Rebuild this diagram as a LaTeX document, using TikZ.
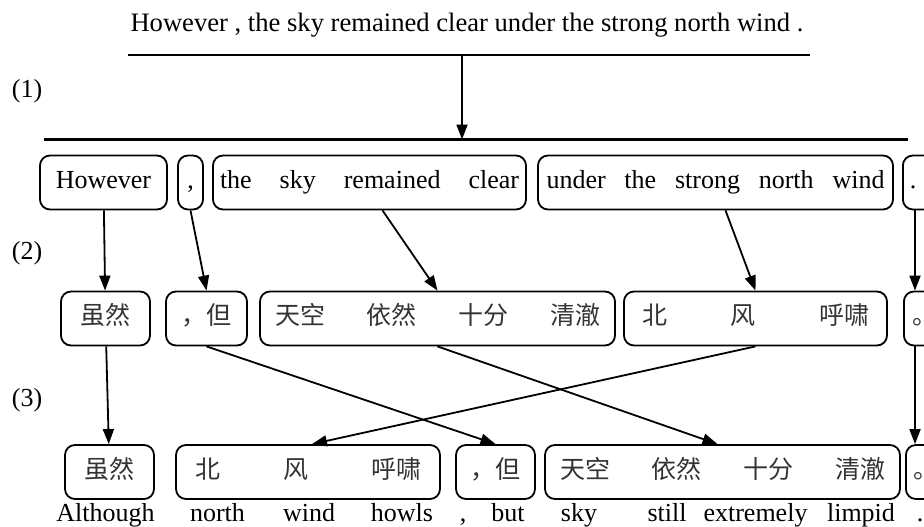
\documentclass[tikz,border=0pt]{standalone}
\usepackage{fontspec}
\setmainfont{Liberation Serif}
\newfontfamily\cjk{Noto Sans CJK SC}
\usetikzlibrary{arrows.meta}

\begin{document}
\begin{tikzpicture}[x=1pt, y=-1pt,
  every node/.style = {font=\fontsize{26}{31}\selectfont},
  chunk/.style = {draw, rounded corners=10pt, line width=1.8pt,
    minimum height=54pt, inner xsep=0pt, text height=19pt, text depth=7pt},
  zh/.style = {chunk, text=black!80, font=\cjk\fontsize{25}{30}\selectfont},
  link/.style = {line width=1.8pt, -{Triangle[length=15pt,width=11pt]}}]
  \useasboundingbox (0,0) rectangle (924,527);

  % source sentence and alignment
  \node[anchor=base, font=\fontsize{26.6}{31}\selectfont] (sentence) at (467,32)
    {However , the sky remained clear under the strong north wind .};
  \draw[line width=2.2pt] (128,55) -- (810,55);
  \draw[line width=2.2pt] (44,139.5) -- (908,139.5);
  \coordinate (split) at (462,55);
  \coordinate (merge) at (462,139.5);
  \draw[link] (split) -- (merge);

  \node (step1) at (27,91) {(1)};
  \node (step2) at (27,253) {(2)};
  \node (step3) at (27,400) {(3)};

  % English chunks
  \node[chunk, minimum width=127pt] (however) at (103.5,182.5) {However};
  \node[chunk, minimum width=25pt] (comma) at (190.5,182.5) {,};
  \node[chunk, minimum width=313pt] (sky) at (369.5,182.5)
    {\makebox[299pt][s]{the\hfill sky\hfill remained\hfill clear}};
  \node[chunk, minimum width=355pt] (wind) at (715.5,182.5)
    {\makebox[338pt][s]{under\hfill the\hfill strong\hfill north\hfill wind}};
  \node[chunk, minimum width=50pt, anchor=west] (stop) at (902,182.5)
    {\makebox[50pt][l]{\hspace{7pt}.}};

  % translated chunks
  \node[zh, minimum width=89pt] (suiran2) at (105.5,318.5) {虽然};
  \node[zh, minimum width=81pt] (dan2) at (206.5,318.5) {，但};
  \node[zh, minimum width=355pt] (tiankong2) at (437.5,318.5)
    {\makebox[325pt][s]{天空\hfill 依然\hfill 十分\hfill 清澈}};
  \node[zh, minimum width=263pt] (beifeng2) at (755.5,318.5)
    {\makebox[227pt][s]{北\hfill 风\hfill 呼啸}};
  \node[zh, minimum width=50pt, anchor=west] (juhao2) at (903,318.5)
    {\makebox[50pt][l]{\hspace{9pt}。}};

  % reordered chunks
  \node[zh, minimum width=89pt] (suiran3) at (109.5,472) {虽然};
  \node[zh, minimum width=264pt] (beifeng3) at (308,472)
    {\makebox[226pt][s]{北\hfill 风\hfill 呼啸}};
  \node[zh, minimum width=79pt] (dan3) at (495.5,472) {，但};
  \node[zh, minimum width=355pt] (tiankong3) at (722.5,472)
    {\makebox[325pt][s]{天空\hfill 依然\hfill 十分\hfill 清澈}};
  \node[zh, minimum width=50pt, anchor=west] (juhao3) at (905,472)
    {\makebox[50pt][l]{\hspace{8pt}。}};

  \draw[link] (however) -- (suiran2);
  \draw[link] (comma.south) -- (dan2.north);
  \draw[link] ([xshift=13pt]sky.south) -- (tiankong2.north);
  \draw[link] ([xshift=10pt]wind.south) -- (beifeng2.north);
  \draw[link] ([xshift=13pt]stop.south west) -- ([xshift=12pt]juhao2.north west);

  \draw[link] (suiran2) -- (suiran3);
  \draw[link] (dan2.south) -- (dan3.north);
  \draw[link] (tiankong2.south) -- ([xshift=-5pt]tiankong3.north);
  \draw[link] (beifeng2.south) -- ([xshift=4pt]beifeng3.north);
  \draw[link] ([xshift=12pt]juhao2.south west) -- ([xshift=10pt]juhao3.north west);

  % word glosses
  \foreach \x/\w [count=\i] in {105.5/Although, 217.5/north, 309/wind,
      402/howls, 463/{,}, 508/but, 579/sky, 667/still, 755.5/extremely,
      861/limpid, 920/.}
    \node[anchor=base] (gloss\i) at (\x,521) {\w};
\end{tikzpicture}
\end{document}
